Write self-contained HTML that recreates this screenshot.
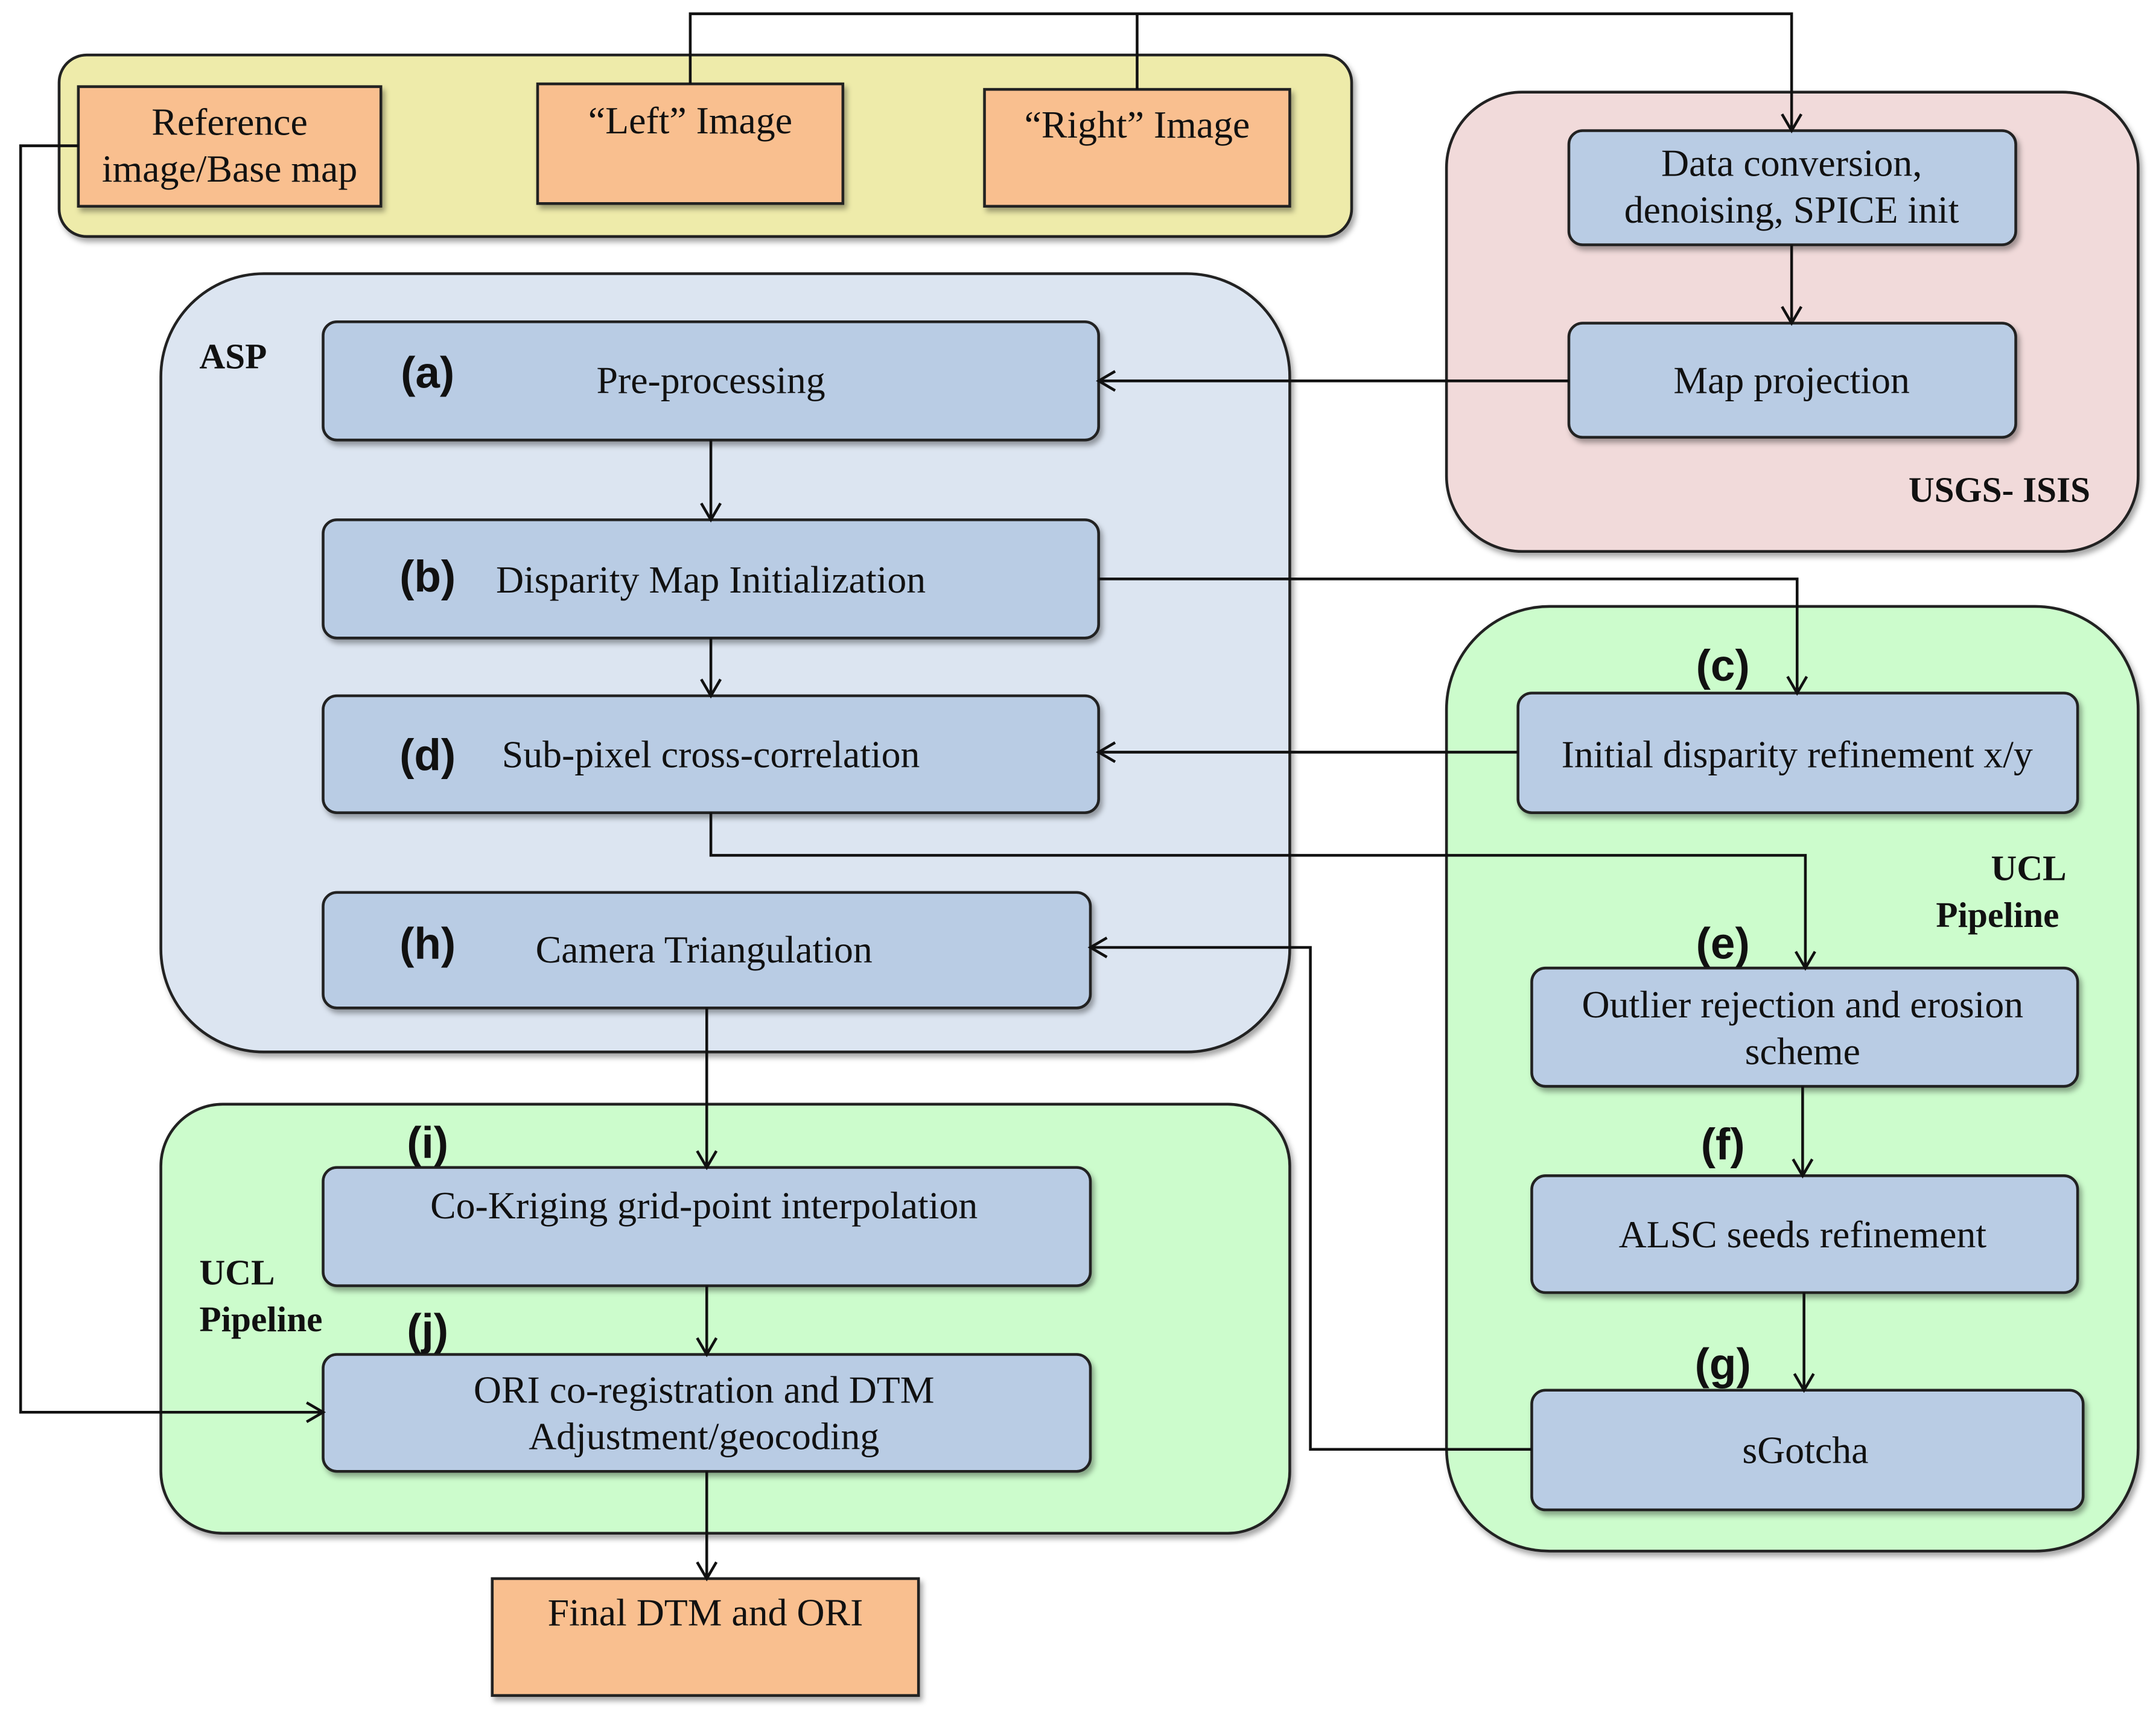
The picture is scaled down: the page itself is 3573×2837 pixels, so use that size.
<!DOCTYPE html>
<html><head><meta charset="utf-8"><style>
html,body{margin:0;padding:0;background:#fff;}
svg{display:block;}
.t{font-family:"Liberation Serif",serif;font-size:28px;fill:#111;text-anchor:middle;}
.l{font-family:"Liberation Sans",sans-serif;font-size:32px;font-weight:bold;fill:#111;text-anchor:middle;}
.b{font-family:"Liberation Serif",serif;font-size:26px;font-weight:bold;fill:#111;}
.box{fill:#b9cce4;stroke:#222;stroke-width:2;filter:url(#sh);}
.or{fill:#f9bf8f;stroke:#222;stroke-width:2;filter:url(#sh);}
.c{fill:none;stroke:#111;stroke-width:2;}
</style></head><body>
<svg width="3573" height="2837" viewBox="0 0 1568 1245" xmlns="http://www.w3.org/2000/svg">
<defs>
<filter id="sh" x="-10%" y="-10%" width="130%" height="140%"><feDropShadow dx="2" dy="3" stdDeviation="2" flood-color="#000" flood-opacity="0.35"/></filter>
<marker id="a" markerWidth="16" markerHeight="16" refX="14" refY="8" orient="auto" markerUnits="userSpaceOnUse"><path d="M2,1 L14,8 L2,15" fill="none" stroke="#111" stroke-width="2"/></marker>
</defs>
<rect x="43" y="40" width="940" height="132" rx="20" fill="#eeebaa" stroke="#222" stroke-width="2" filter="url(#sh)"/>
<rect x="1052" y="67" width="503" height="334" rx="55" fill="#f1dada" stroke="#222" stroke-width="2" filter="url(#sh)"/>
<rect x="117" y="199" width="821" height="566" rx="75" fill="#dce5f1" stroke="#222" stroke-width="2" filter="url(#sh)"/>
<rect x="1052" y="441" width="503" height="687" rx="75" fill="#ccfccc" stroke="#222" stroke-width="2" filter="url(#sh)"/>
<rect x="117" y="803" width="821" height="312" rx="45" fill="#ccfccc" stroke="#222" stroke-width="2" filter="url(#sh)"/>
<rect class="or" x="57" y="63" width="220" height="87"/>
<text class="t" x="167" y="98">Reference</text><text class="t" x="167" y="132">image/Base map</text>
<rect class="or" x="391" y="61" width="222" height="87"/>
<text class="t" x="502" y="97">“Left” Image</text>
<rect class="or" x="716" y="65" width="222" height="85"/>
<text class="t" x="827" y="100">“Right” Image</text>
<rect class="or" x="358" y="1148" width="310" height="85"/>
<text class="t" x="513" y="1182">Final DTM and ORI</text>
<rect class="box" x="1141" y="95" width="325" height="83" rx="10"/>
<text class="t" x="1303" y="128">Data conversion,</text><text class="t" x="1303" y="162">denoising, SPICE init</text>
<rect class="box" x="1141" y="235" width="325" height="83" rx="10"/>
<text class="t" x="1303" y="286">Map projection</text>
<text class="b" x="1388" y="365">USGS- ISIS</text>
<text class="b" x="145" y="268">ASP</text>
<rect class="box" x="235" y="234" width="564" height="86" rx="10"/>
<text class="l" x="311" y="282">(a)</text><text class="t" x="517" y="286">Pre-processing</text>
<rect class="box" x="235" y="378" width="564" height="86" rx="10"/>
<text class="l" x="311" y="430">(b)</text><text class="t" x="517" y="431">Disparity Map Initialization</text>
<rect class="box" x="235" y="506" width="564" height="85" rx="10"/>
<text class="l" x="311" y="560">(d)</text><text class="t" x="517" y="558">Sub-pixel cross-correlation</text>
<rect class="box" x="235" y="649" width="558" height="84" rx="10"/>
<text class="l" x="311" y="697">(h)</text><text class="t" x="512" y="700">Camera Triangulation</text>
<rect class="box" x="1104" y="504" width="407" height="87" rx="10"/>
<text class="l" x="1253" y="495">(c)</text><text class="t" x="1307" y="558">Initial disparity refinement x/y</text>
<text class="b" x="1448" y="640">UCL</text><text class="b" x="1408" y="674">Pipeline</text>
<rect class="box" x="1114" y="704" width="397" height="86" rx="10"/>
<text class="l" x="1253" y="697">(e)</text><text class="t" x="1311" y="740">Outlier rejection and erosion</text><text class="t" x="1311" y="774">scheme</text>
<rect class="box" x="1114" y="855" width="397" height="85" rx="10"/>
<text class="l" x="1253" y="843">(f)</text><text class="t" x="1311" y="907">ALSC seeds refinement</text>
<rect class="box" x="1114" y="1011" width="401" height="87" rx="10"/>
<text class="l" x="1253" y="1003">(g)</text><text class="t" x="1313" y="1064">sGotcha</text>
<rect class="box" x="235" y="849" width="558" height="86" rx="10"/>
<text class="l" x="311" y="842">(i)</text><text class="t" x="512" y="886">Co-Kriging grid-point interpolation</text>
<text class="b" x="145" y="934">UCL</text><text class="b" x="145" y="968">Pipeline</text>
<rect class="box" x="235" y="985" width="558" height="85" rx="10"/>
<text class="l" x="311" y="978">(j)</text><text class="t" x="512" y="1020">ORI co-registration and DTM</text><text class="t" x="512" y="1054">Adjustment/geocoding</text>
<path class="c" d="M502,61 V10 H1303 V95" marker-end="url(#a)"/>
<path class="c" d="M827,65 V10"/>
<path class="c" d="M1303,178 V235" marker-end="url(#a)"/>
<path class="c" d="M1141,277 H799" marker-end="url(#a)"/>
<path class="c" d="M517,320 V378" marker-end="url(#a)"/>
<path class="c" d="M517,464 V506" marker-end="url(#a)"/>
<path class="c" d="M799,421 H1307 V504" marker-end="url(#a)"/>
<path class="c" d="M1104,547 H799" marker-end="url(#a)"/>
<path class="c" d="M517,591 V622 H1313 V704" marker-end="url(#a)"/>
<path class="c" d="M1311,790 V855" marker-end="url(#a)"/>
<path class="c" d="M1312,940 V1011" marker-end="url(#a)"/>
<path class="c" d="M1114,1054 H953 V689 H793" marker-end="url(#a)"/>
<path class="c" d="M514,733 V849" marker-end="url(#a)"/>
<path class="c" d="M514,935 V985" marker-end="url(#a)"/>
<path class="c" d="M514,1070 V1148" marker-end="url(#a)"/>
<path class="c" d="M57,106 H15 V1027 H235" marker-end="url(#a)"/>
</svg>
</body></html>
